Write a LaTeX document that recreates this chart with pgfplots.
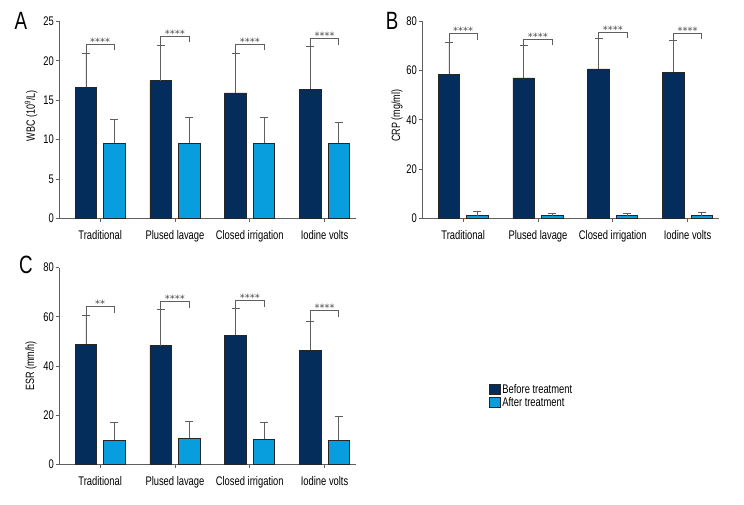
\documentclass[border=0pt]{standalone}
\usepackage{fontspec}
\setmainfont{Liberation Sans}[FakeStretch=0.75]
\newfontfamily\starfont{DejaVu Sans}
\usepackage{pgfplots}
\pgfplotsset{compat=1.18}

\definecolor{before}{RGB}{4,45,92}
\definecolor{after}{RGB}{8,158,222}
\definecolor{axisgray}{RGB}{95,95,95}

\tikzset{
  brk/.style={axisgray, line width=0.7pt},
  stars/.style={anchor=base, inner sep=0pt, text=black!70, font=\starfont\fontsize{10}{10}\selectfont},
}

% bracket over group #1: top at #2, left leg down to #3, label #4
\newcommand{\sig}[4]{%
  \draw[brk] ([xshift=-14.25pt]axis cs:#1,#3) -- ([xshift=-14.25pt]axis cs:#1,#2)
    -- ([xshift=14.25pt]axis cs:#1,#2) -- ([xshift=14.25pt,yshift=-6pt]axis cs:#1,#2);
  \node[stars] at ([yshift=-1pt]axis cs:#1,#2) {#4};}

\pgfplotsset{
  panel/.style={
    scale only axis, width=297pt, height=197pt,
    anchor=south west,
    axis lines=left, axis line style={-, axisgray, line width=0.7pt},
    xmin=-0.55, xmax=3.42, ymin=0,
    enlargelimits=false,
    xtick={0,1,2,3},
    xticklabels={Traditional,Plused lavage,Closed irrigation,Iodine volts},
    tick align=outside, major tick length=3.5pt,
    tick style={axisgray, line width=0.7pt},
    ticklabel style={font=\fontsize{12.5}{12.5}\selectfont},
    yticklabel style={inner sep=1.5pt},
    xticklabel style={yshift=-5pt},
    /pgf/number format/assume math mode=true,
    ylabel style={font=\fontsize{12}{12}\selectfont, anchor=center},
    ybar=7pt, bar width=21.5pt,
    clip=false,
    error bars/y dir=plus, error bars/y explicit,
    error bars/error mark options={rotate=90, axisgray, line width=0.7pt, mark size=4pt},
    error bars/error bar style={axisgray, line width=0.7pt},
  },
  bef/.style={fill=before, draw=black!85, line width=0.6pt},
  aft/.style={fill=after, draw=black!85, line width=0.6pt},
}

\begin{document}
\begin{tikzpicture}
\useasboundingbox (0pt,0pt) rectangle (744pt,-504pt);

\node[font=\fontsize{25}{25}\selectfont] at (21pt,-21pt) {A};
\node[font=\fontsize{25}{25}\selectfont] at (392pt,-21pt) {B};
\node[font=\fontsize{25}{25}\selectfont] at (26pt,-265pt) {C};

% A: WBC
\begin{axis}[panel, at={(59pt,-218.3pt)},
  ymax=25, ytick={0,5,...,25},
  ylabel={WBC (10\textsuperscript{9}/L)},
  ylabel style={at={(axis description cs:-0.094,0.52)}}]
\addplot[bef] coordinates {(0,16.64) +- (0,4.35) (1,17.48) +- (0,4.44) (2,15.92) +- (0,5.07) (3,16.39) +- (0,5.44)};
\addplot[aft] coordinates {(0,9.5) +- (0,3.04) (1,9.5) +- (0,3.30) (2,9.5) +- (0,3.30) (3,9.5) +- (0,2.62)};
\sig{0}{22.1}{20.99}{****}
\sig{1}{23.1}{21.92}{****}
\sig{2}{22.1}{20.99}{****}
\sig{3}{22.8}{21.83}{****}
\end{axis}

% B: CRP
\begin{axis}[panel, at={(422pt,-218.3pt)},
  ymax=80, ytick={0,20,...,80},
  ylabel={CRP (mg/ml)},
  ylabel style={at={(axis description cs:-0.084,0.52)}}]
\addplot[bef] coordinates {(0,58.4) +- (0,13.0) (1,57.0) +- (0,13.1) (2,60.7) +- (0,12.4) (3,59.3) +- (0,13.1)};
\addplot[aft] coordinates {(0,1.1) +- (0,1.6) (1,1.1) +- (0,0.8) (2,1.1) +- (0,0.9) (3,1.1) +- (0,1.3)};
\sig{0}{75.0}{71.4}{****}
\sig{1}{72.8}{70.1}{****}
\sig{2}{75.5}{73.1}{****}
\sig{3}{75.1}{72.4}{****}
\end{axis}

% C: ESR
\begin{axis}[panel, at={(59pt,-464.5pt)},
  ymax=80, ytick={0,20,...,80},
  ylabel={ESR (mm/h)},
  ylabel style={at={(axis description cs:-0.094,0.5)}},
  legend style={draw=none, fill=none, at={(axis description cs:1.448,0.415)},
    anchor=north west, font=\fontsize{12.5}{12.5}\selectfont, inner sep=0pt,
    row sep=-1pt, nodes={inner sep=1.5pt}},
  legend cell align=left]
\addplot[bef, legend image code/.code={\draw[fill=before, draw=black!85, line width=0.6pt] (0pt,-5pt) rectangle (11pt,5pt);}]
  coordinates {(0,48.8) +- (0,11.8) (1,48.3) +- (0,14.9) (2,52.5) +- (0,10.8) (3,46.3) +- (0,12.0)};
\addlegendentry{Before treatment}
\addplot[aft, legend image code/.code={\draw[fill=after, draw=black!85, line width=0.6pt] (0pt,-5pt) rectangle (11pt,5pt);}]
  coordinates {(0,9.9) +- (0,7.1) (1,10.6) +- (0,6.8) (2,10.2) +- (0,7.1) (3,9.9) +- (0,9.6)};
\addlegendentry{After treatment}
\sig{0}{64.1}{60.6}{**}
\sig{1}{66.1}{63.2}{****}
\sig{2}{66.5}{63.3}{****}
\sig{3}{62.4}{58.3}{****}
\end{axis}
\end{tikzpicture}
\end{document}
